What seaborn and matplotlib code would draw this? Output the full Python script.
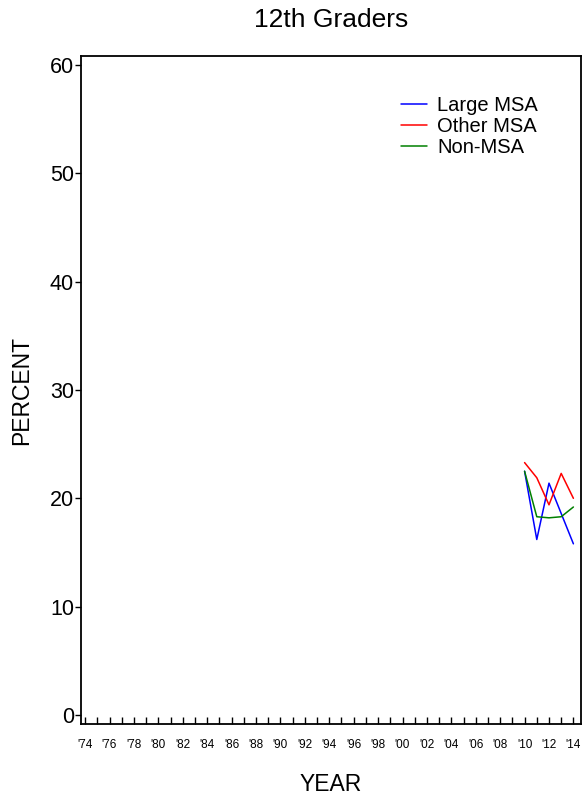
"""12th graders by MSA type, percent by year."""

import matplotlib

matplotlib.use("Agg")

import matplotlib.pyplot as plt
import pandas as pd
import seaborn as sns

YEARS = [2010, 2011, 2012, 2013, 2014]
LARGE_MSA = [22.5, 16.2, 21.4, 18.6, 15.8]
OTHER_MSA = [23.3, 21.9, 19.4, 22.3, 20.0]
NON_MSA = [22.5, 18.3, 18.2, 18.3, 19.2]

SERIES_NAMES = ["Large MSA", "Other MSA", "Non-MSA"]
SERIES_COLORS = ["#0000ff", "#ff0000", "#008000"]

TICK_YEARS = list(range(1974, 2015))
LABEL_YEARS = list(range(1974, 2015, 2))
Y_TICKS = [0, 10, 20, 30, 40, 50, 60]


def build_frame() -> pd.DataFrame:
    frames = []
    for name, values in zip(SERIES_NAMES, [LARGE_MSA, OTHER_MSA, NON_MSA]):
        frames.append(pd.DataFrame({"year": YEARS, "percent": values, "group": name}))
    return pd.concat(frames, ignore_index=True)


def main() -> None:
    sns.set_style("ticks")
    plt.rcParams["font.family"] = ["Liberation Sans", "DejaVu Sans"]
    plt.rcParams["text.color"] = "black"
    plt.rcParams["axes.labelcolor"] = "black"

    df = build_frame()

    fig = plt.figure(figsize=(5.86, 7.96), dpi=100)
    ax = fig.add_axes([0.138, 0.0905, 0.853, 0.8391])

    sns.lineplot(
        data=df,
        x="year",
        y="percent",
        hue="group",
        hue_order=SERIES_NAMES,
        palette=SERIES_COLORS,
        linewidth=1.1,
        ax=ax,
    )

    ax.set_xlim(1973.65, 2014.6)
    ax.set_ylim(-0.83, 60.83)

    ax.set_xticks(TICK_YEARS)
    ax.set_xticklabels(
        [f"'{y % 100:02d}" if y in LABEL_YEARS else "" for y in TICK_YEARS],
        fontsize=8.5,
    )
    ax.tick_params(axis="x", direction="in", length=5, width=1, pad=11, colors="black")

    ax.set_yticks(Y_TICKS)
    ax.set_yticklabels([str(v) for v in Y_TICKS], fontsize=15.5)
    ax.tick_params(axis="y", direction="out", length=4, width=1, pad=1, colors="black")

    for spine in ax.spines.values():
        spine.set_visible(True)
        spine.set_linewidth(1.3)
        spine.set_color("black")

    ax.set_xlabel("YEAR", fontsize=16.5, labelpad=16)
    ax.set_ylabel("PERCENT", fontsize=16.5, labelpad=12)
    ax.set_title("12th Graders", fontsize=19, pad=21)

    handles, labels = ax.get_legend_handles_labels()
    ax.legend(
        handles,
        labels,
        loc="upper left",
        bbox_to_anchor=(0.624, 0.952),
        frameon=False,
        fontsize=14.5,
        handlelength=1.3,
        handletextpad=0.5,
        labelspacing=0.1,
        borderaxespad=0,
    )

    fig.savefig("out.png", dpi=100)
    plt.close(fig)


if __name__ == "__main__":
    main()
